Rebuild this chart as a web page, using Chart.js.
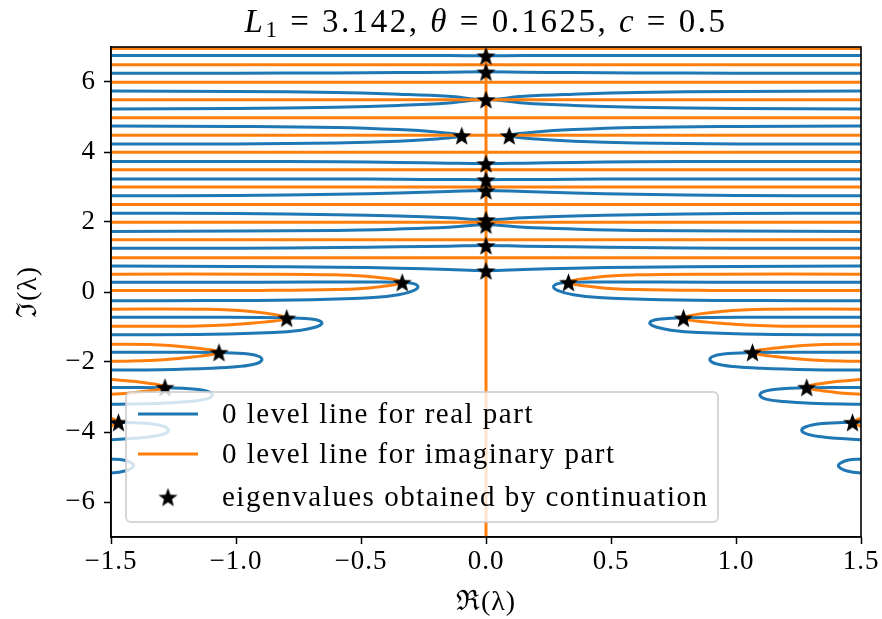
<!DOCTYPE html>
<html>
<head>
<meta charset="utf-8">
<script src="https://cdn.jsdelivr.net/npm/chart.js@4.4.1/dist/chart.umd.min.js"></script>
<style>
  html, body { margin: 0; padding: 0; background: #fff; }
</style>
</head>
<body>
<canvas id="levelChart" width="882" height="619"></canvas>
<script>
// axis ranges and tick labels
const xRange = [-1.5, 1.5];
const yRange = [-7, 7];
const xTicks = [-1.5, -1.0, -0.5, 0.0, 0.5, 1.0, 1.5];
const yTicks = [-6, -4, -2, 0, 2, 4, 6];

// x positions where the full-width blue level lines were read
const gridX = [-1.5, -1.0, -0.6, -0.35, -0.15, 0, 0.15, 0.35, 0.6, 1.0, 1.5];

// blue (real part) lines crossing the whole plot, y read at gridX
const blue675 = [6.76, 6.76, 6.76, 6.76, 6.755, 6.75, 6.755, 6.76, 6.76, 6.76, 6.76];
const blue625 = [6.25, 6.25, 6.26, 6.27, 6.28, 6.29, 6.28, 6.27, 6.26, 6.25, 6.25];
const blue573 = [5.74, 5.73, 5.70, 5.65, 5.59, 5.50, 5.59, 5.65, 5.70, 5.73, 5.74];
const blue523 = [5.23, 5.24, 5.28, 5.33, 5.40, 5.50, 5.40, 5.33, 5.28, 5.24, 5.23];
const blue373 = [3.73, 3.73, 3.72, 3.70, 3.68, 3.67, 3.68, 3.70, 3.72, 3.73, 3.73];
const blue323 = [3.23, 3.23, 3.23, 3.22, 3.215, 3.21, 3.215, 3.22, 3.23, 3.23, 3.23];
const blue275 = [2.75, 2.76, 2.79, 2.83, 2.87, 2.90, 2.87, 2.83, 2.79, 2.76, 2.75];
const blue225 = [2.25, 2.24, 2.21, 2.17, 2.12, 2.07, 2.12, 2.17, 2.21, 2.24, 2.25];
const blue173 = [1.73, 1.74, 1.76, 1.80, 1.85, 1.92, 1.85, 1.80, 1.76, 1.74, 1.73];
const blue125 = [1.25, 1.25, 1.27, 1.29, 1.31, 1.33, 1.31, 1.29, 1.27, 1.25, 1.25];
const blue073 = [0.74, 0.73, 0.71, 0.68, 0.64, 0.61, 0.64, 0.68, 0.71, 0.73, 0.74];

// blue lines that turn back near the centre (y ~ 4.5)
const blueTurnLeft = [[-1.5, 4.74], [-1.0, 4.73], [-0.6, 4.70], [-0.35, 4.64], [-0.2, 4.57], [-0.097, 4.47],
  [-0.2, 4.37], [-0.35, 4.31], [-0.6, 4.26], [-1.0, 4.23], [-1.5, 4.23]];
const blueTurnRight = [[1.5, 4.74], [1.0, 4.73], [0.6, 4.70], [0.35, 4.64], [0.2, 4.57], [0.093, 4.47],
  [0.2, 4.37], [0.35, 4.31], [0.6, 4.26], [1.0, 4.23], [1.5, 4.23]];

// blue loops in the lower half
const blueLoopsLeft = [
  [[-1.5, 0.28], [-0.9, 0.28], [-0.5, 0.285], [-0.34, 0.28], [-0.29, 0.24], [-0.272, 0.15], [-0.29, 0.04],
    [-0.35, -0.08], [-0.45, -0.16], [-0.7, -0.22], [-1.1, -0.245], [-1.5, -0.25]],
  [[-1.5, -0.72], [-1.1, -0.72], [-0.8, -0.735], [-0.7, -0.77], [-0.663, -0.83], [-0.657, -0.91], [-0.68, -1.0],
    [-0.74, -1.09], [-0.85, -1.16], [-1.1, -1.21], [-1.5, -1.22]],
  [[-1.5, -1.72], [-1.2, -1.72], [-1.07, -1.73], [-0.95, -1.77], [-0.905, -1.85], [-0.897, -1.95], [-0.92, -2.05],
    [-0.99, -2.13], [-1.1, -2.18], [-1.3, -2.22], [-1.5, -2.23]],
  [[-1.5, -2.73], [-1.284, -2.735], [-1.16, -2.78], [-1.105, -2.86], [-1.095, -2.96], [-1.12, -3.06],
    [-1.19, -3.13], [-1.3, -3.18], [-1.5, -3.21]],
  [[-1.5, -3.72], [-1.47, -3.72], [-1.35, -3.76], [-1.285, -3.85], [-1.27, -3.96], [-1.29, -4.06],
    [-1.36, -4.15], [-1.45, -4.2], [-1.5, -4.22]],
  [[-1.5, -4.77], [-1.45, -4.8], [-1.417, -4.89], [-1.41, -4.98], [-1.43, -5.08], [-1.47, -5.15], [-1.5, -5.17]]
];
const blueLoopsRight = [
  [[1.5, 0.28], [0.9, 0.28], [0.5, 0.285], [0.335, 0.28], [0.288, 0.24], [0.27, 0.15], [0.288, 0.04],
    [0.35, -0.08], [0.45, -0.16], [0.7, -0.22], [1.1, -0.245], [1.5, -0.25]],
  [[1.5, -0.72], [1.1, -0.72], [0.79, -0.735], [0.7, -0.77], [0.661, -0.83], [0.656, -0.91], [0.68, -1.0],
    [0.74, -1.09], [0.85, -1.16], [1.1, -1.21], [1.5, -1.22]],
  [[1.5, -1.72], [1.2, -1.72], [1.066, -1.73], [0.95, -1.77], [0.904, -1.85], [0.896, -1.95], [0.92, -2.05],
    [0.99, -2.13], [1.1, -2.18], [1.3, -2.22], [1.5, -2.23]],
  [[1.5, -2.73], [1.283, -2.735], [1.16, -2.78], [1.106, -2.86], [1.096, -2.96], [1.12, -3.06],
    [1.19, -3.13], [1.3, -3.18], [1.5, -3.21]],
  [[1.5, -3.72], [1.466, -3.72], [1.345, -3.76], [1.28, -3.85], [1.263, -3.96], [1.285, -4.06],
    [1.355, -4.15], [1.45, -4.2], [1.5, -4.22]],
  [[1.5, -4.77], [1.45, -4.8], [1.417, -4.89], [1.41, -4.98], [1.43, -5.08], [1.47, -5.15], [1.5, -5.17]]
];

// orange (imaginary part) lines crossing the whole plot
const orangeLevels = [0.98, 1.49, 1.99, 2.5, 3.0, 3.49, 3.99, 4.48, 4.98, 5.49, 5.99, 6.49, 6.96];
const orangeAxis = [[0, -7], [0, 7]];

// orange loops ending at the eigenvalues in the lower half
const orangeLoopsLeft = [
  [[-1.5, 0.51], [-0.9, 0.51], [-0.6, 0.49], [-0.45, 0.43], [-0.335, 0.28], [-0.45, 0.13], [-0.6, 0.07],
    [-0.9, 0.045], [-1.5, 0.04]],
  [[-1.5, -0.49], [-1.15, -0.49], [-0.95, -0.55], [-0.797, -0.74], [-0.95, -0.9], [-1.15, -0.97], [-1.5, -0.98]],
  [[-1.5, -1.49], [-1.35, -1.5], [-1.2, -1.57], [-1.068, -1.72], [-1.2, -1.88], [-1.35, -1.96], [-1.5, -1.98]],
  [[-1.5, -2.5], [-1.4, -2.56], [-1.284, -2.72], [-1.4, -2.87], [-1.5, -2.92]],
  [[-1.5, -3.6], [-1.47, -3.72], [-1.5, -3.84]]
];
const orangeLoopsRight = [
  [[1.5, 0.51], [0.9, 0.51], [0.6, 0.49], [0.45, 0.43], [0.33, 0.28], [0.45, 0.13], [0.6, 0.07],
    [0.9, 0.045], [1.5, 0.04]],
  [[1.5, -0.49], [1.15, -0.49], [0.95, -0.55], [0.79, -0.74], [0.95, -0.9], [1.15, -0.97], [1.5, -0.98]],
  [[1.5, -1.49], [1.35, -1.5], [1.2, -1.57], [1.066, -1.72], [1.2, -1.88], [1.35, -1.96], [1.5, -1.98]],
  [[1.5, -2.5], [1.4, -2.56], [1.283, -2.72], [1.4, -2.87], [1.5, -2.92]],
  [[1.5, -3.6], [1.466, -3.72], [1.5, -3.84]]
];

// eigenvalues obtained by continuation
const starX = [0, 0, 0, -0.097, 0.093, 0, 0, 0, 0, 0, 0, 0,
  -0.335, 0.33, -0.797, 0.79, -1.068, 1.066, -1.284, 1.283, -1.47, 1.466];
const starY = [6.75, 6.29, 5.5, 4.47, 4.47, 3.67, 3.21, 2.9, 2.07, 1.92, 1.33, 0.61,
  0.28, 0.28, -0.74, -0.74, -1.72, -1.72, -2.72, -2.72, -3.72, -3.72];

const legendLabels = ['0 level line for real part', '0 level line for imaginary part', 'eigenvalues obtained by continuation'];

const BLUE = '#1f77b4';
const ORANGE = '#ff7f0e';
const SERIF = "'Liberation Serif', 'DejaVu Serif', serif";
const LINE_W = 3;

function fromGrid(ys) {
    return gridX.map((x, i) => ({ x: x, y: ys[i] }));
}
function fromPairs(arr) {
    return arr.map(p => ({ x: p[0], y: p[1] }));
}
function lineSet(points, color, order) {
    return {
        data: points,
        showLine: true,
        borderColor: color,
        borderWidth: LINE_W,
        pointRadius: 0,
        pointHoverRadius: 0,
        tension: 0.4,
        fill: false,
        order: order
    };
}

// filled five pointed star used as marker
function makeStar(size) {
    const c = document.createElement('canvas');
    c.width = size;
    c.height = size;
    const g = c.getContext('2d');
    const cx = size / 2, cy = size / 2 + size * 0.05;
    const R = size / 2 - 0.5, r = R * 0.42;
    g.beginPath();
    for (let i = 0; i < 10; i++) {
        const ang = -Math.PI / 2 + i * Math.PI / 5;
        const rad = i % 2 ? r : R;
        g.lineTo(cx + rad * Math.cos(ang), cy + rad * Math.sin(ang));
    }
    g.closePath();
    g.fillStyle = '#000';
    g.fill();
    return c;
}
const starImg = makeStar(21);

const datasets = [];
[blue675, blue625, blue573, blue523, blue373, blue323, blue275, blue225, blue173, blue125, blue073]
    .forEach(ys => datasets.push(lineSet(fromGrid(ys), BLUE, 3)));
[blueTurnLeft, blueTurnRight].forEach(p => datasets.push(lineSet(fromPairs(p), BLUE, 3)));
blueLoopsLeft.concat(blueLoopsRight).forEach(p => datasets.push(lineSet(fromPairs(p), BLUE, 3)));
orangeLevels.forEach(y => datasets.push(lineSet([{ x: xRange[0], y: y }, { x: xRange[1], y: y }], ORANGE, 2)));
datasets.push(lineSet(fromPairs(orangeAxis), ORANGE, 2));
orangeLoopsLeft.concat(orangeLoopsRight).forEach(p => datasets.push(lineSet(fromPairs(p), ORANGE, 2)));
datasets.push({
    data: starX.map((x, i) => ({ x: x, y: starY[i] })),
    showLine: false,
    pointStyle: starImg,
    pointRadius: 10,
    order: 1
});

function minus(s) {
    return String(s).replace('-', '\u2212');
}

// title with italic symbols, legend box and the axes frame
const decorations = {
    id: 'decorations',
    beforeDraw(chart) {
        // the reference font (computer modern) runs wider than Times
        chart.ctx.letterSpacing = '1px';
    },
    afterDatasetsDraw(chart) {
        const ctx = chart.ctx;
        const a = chart.chartArea;

        // legend
        const bx = a.left + 15, by = a.bottom - 145, bw = 592, bh = 130;
        ctx.save();
        ctx.beginPath();
        ctx.roundRect(bx, by, bw, bh, 5);
        ctx.fillStyle = 'rgba(255,255,255,0.8)';
        ctx.fill();
        ctx.lineWidth = 2;
        ctx.strokeStyle = 'rgba(204,204,204,0.8)';
        ctx.stroke();

        const rows = [by + 22, by + 62, by + 105];
        ctx.lineWidth = LINE_W;
        ctx.strokeStyle = BLUE;
        ctx.beginPath(); ctx.moveTo(bx + 12, rows[0]); ctx.lineTo(bx + 72, rows[0]); ctx.stroke();
        ctx.strokeStyle = ORANGE;
        ctx.beginPath(); ctx.moveTo(bx + 12, rows[1]); ctx.lineTo(bx + 72, rows[1]); ctx.stroke();
        ctx.drawImage(starImg, bx + 42 - 10.5, rows[2] - 10.5);

        ctx.fillStyle = '#000';
        ctx.font = '29px ' + SERIF;
        ctx.letterSpacing = '1.5px';
        ctx.textBaseline = 'middle';
        legendLabels.forEach((t, i) => ctx.fillText(t, bx + 96, rows[i] + 1));
        ctx.restore();

        // frame
        ctx.save();
        ctx.strokeStyle = '#000';
        ctx.lineWidth = 1.6;
        ctx.strokeRect(a.left, a.top, a.right - a.left, a.bottom - a.top);
        ctx.restore();

        // title
        const parts = [
            ['L', 'italic 33px '], ['1', '23px '], [' = 3.142, ', '33px '],
            ['\u03b8', 'italic 33px '], [' = 0.1625, ', '33px '], ['c', 'italic 33px '], [' = 0.5', '33px ']
        ];
        ctx.save();
        ctx.fillStyle = '#000';
        ctx.letterSpacing = '2.5px';
        ctx.textBaseline = 'alphabetic';
        let total = 0;
        parts.forEach(p => { ctx.font = p[1] + SERIF; total += ctx.measureText(p[0]).width; });
        let x = (a.left + a.right) / 2 - total / 2;
        parts.forEach(p => {
            ctx.font = p[1] + SERIF;
            const dy = p[0] === '1' ? 5 : 0;
            ctx.fillText(p[0], x, 32 + dy);
            x += ctx.measureText(p[0]).width;
        });
        ctx.restore();
    }
};

new Chart(document.getElementById('levelChart'), {
    type: 'scatter',
    data: { datasets: datasets },
    options: {
        responsive: false,
        animation: false,
        events: [],
        layout: { padding: { top: 47, right: 21, left: 0, bottom: 0 } },
        plugins: {
            legend: { display: false },
            tooltip: { enabled: false },
            title: { display: false }
        },
        scales: {
            x: {
                type: 'linear',
                min: xRange[0],
                max: xRange[1],
                afterBuildTicks: s => { s.ticks = xTicks.map(v => ({ value: v })); },
                afterFit: s => { s.height = 82; },
                ticks: {
                    color: '#000',
                    font: { family: SERIF, size: 27 },
                    padding: 2,
                    maxRotation: 0,
                    callback: v => minus(Number(v).toFixed(1))
                },
                grid: { drawOnChartArea: false, tickLength: 7, tickColor: '#000', tickWidth: 1.5 },
                border: { color: '#000', width: 1.6 },
                title: {
                    display: true,
                    text: '\u211c(\u03bb)',
                    color: '#000',
                    font: { family: SERIF, size: 28 },
                    padding: { top: 0, bottom: 0 }
                }
            },
            y: {
                type: 'linear',
                min: yRange[0],
                max: yRange[1],
                afterBuildTicks: s => { s.ticks = yTicks.map(v => ({ value: v })); },
                afterFit: s => { s.width = 111; },
                ticks: {
                    color: '#000',
                    font: { family: SERIF, size: 27 },
                    padding: 8,
                    callback: v => minus(v)
                },
                grid: { drawOnChartArea: false, tickLength: 7, tickColor: '#000', tickWidth: 1.5 },
                border: { color: '#000', width: 1.6 },
                title: {
                    display: true,
                    text: '\u2111(\u03bb)',
                    color: '#000',
                    font: { family: SERIF, size: 28 },
                    padding: { top: 12, bottom: 0 }
                }
            }
        }
    },
    plugins: [decorations]
});
</script>
</body>
</html>
